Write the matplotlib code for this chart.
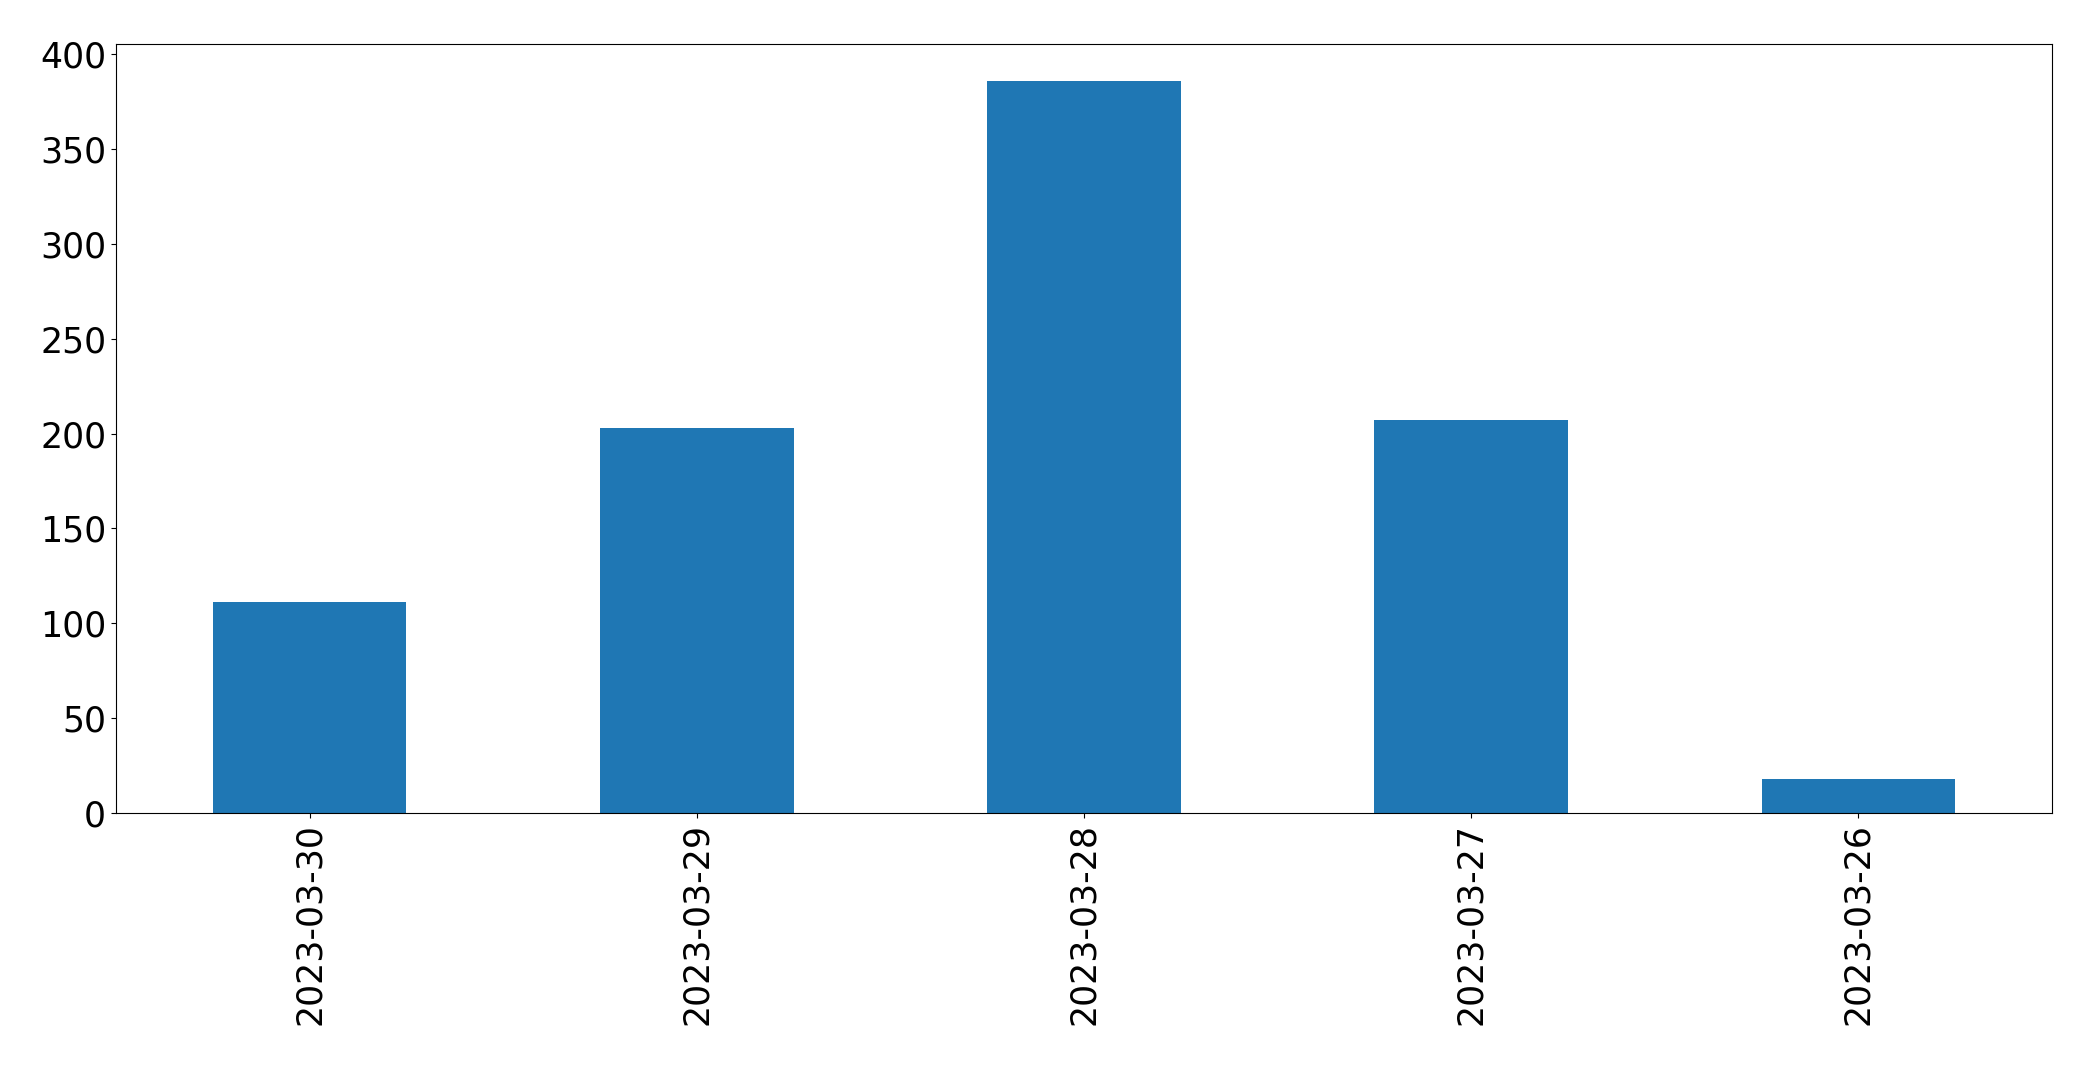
import matplotlib
matplotlib.use("Agg")
import matplotlib.pyplot as plt

# ── data ──────────────────────────────────────────────────────────────────────
dates  = ["2023-03-30", "2023-03-29", "2023-03-28", "2023-03-27", "2023-03-26"]
counts = [111, 203, 386, 207, 18]

# ── plot ──────────────────────────────────────────────────────────────────────
fig, ax = plt.subplots(figsize=(20.93, 10.65), dpi=100)
fig.subplots_adjust(left=0.0554, right=0.9804, top=0.9587, bottom=0.2366)

x = range(len(dates))
ax.bar(x, counts, width=0.5, color="#1f77b4")
ax.set_xticks(list(x))
ax.set_xticklabels(dates, rotation=90)
ax.set_xlim(-0.5, len(dates) - 0.5)
ax.set_ylim(0, max(counts) * 1.05)
ax.tick_params(labelsize=25)

plt.savefig("out.png", dpi=100)
